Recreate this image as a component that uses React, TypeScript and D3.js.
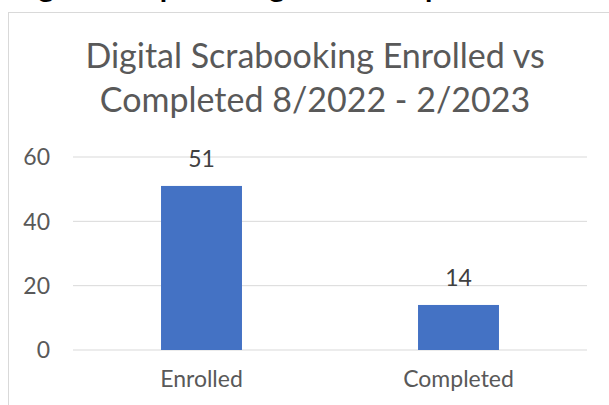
import React from "react";
import * as d3 from "d3";

const categories = ["Enrolled", "Completed"];
const values = [51, 14];
const yTicks = [0, 20, 40, 60];
const titleLines = ["Digital Scrabooking Enrolled vs", "Completed 8/2022 - 2/2023"];
const headingText = "Digital Scrapbooking Data Comparison";

const W = 609;
const H = 405;
const FONT = "Lato, 'Open Sans', sans-serif";
const TEXT = "#595959";

export default function App() {
  const y = d3.scaleLinear().domain([0, 60]).range([350, 157]);
  const x = d3.scaleBand<string>().domain(categories).range([73, 587]).padding(0);
  const bw = x.bandwidth() * 0.315;

  return (
    <svg
      width={W}
      height={H}
      style={{ position: "absolute", left: 0, top: 0, background: "#fff" }}
      fontFamily={FONT}
    >
      <rect x={0} y={0} width={W} height={H} fill="#fff" />
      <text x={8} y={-3} fontSize={30} fontWeight="bold" fill="#000" fontFamily="Lato, sans-serif">
        {headingText}
      </text>
      <rect x={8.5} y={12.5} width={W + 20} height={H + 20} fill="#fff" stroke="#d9d9d9" strokeWidth={1} />
      {titleLines.map((t, i) => (
        <text key={i} x={315} y={68 + i * 44} fontSize={34} fill={TEXT} textAnchor="middle">
          {t}
        </text>
      ))}
      {yTicks.map((t) => (
        <g key={t}>
          <line x1={73} x2={587} y1={y(t)} y2={y(t)} stroke="#d9d9d9" strokeWidth={1} />
          <text x={50} y={y(t)} dy="0.36em" fontSize={23} fill={TEXT} textAnchor="end">
            {t}
          </text>
        </g>
      ))}
      {categories.map((c, i) => {
        const cx = (x(c) as number) + x.bandwidth() / 2;
        return (
          <g key={c}>
            <rect x={cx - bw / 2} y={y(values[i])} width={bw} height={y(0) - y(values[i])} fill="#4472C4" />
            <text x={cx} y={y(values[i]) - 19} fontSize={23} fill="#404040" textAnchor="middle">
              {values[i]}
            </text>
            <text x={cx} y={387} fontSize={23} fill={TEXT} textAnchor="middle">
              {c}
            </text>
          </g>
        );
      })}
    </svg>
  );
}
